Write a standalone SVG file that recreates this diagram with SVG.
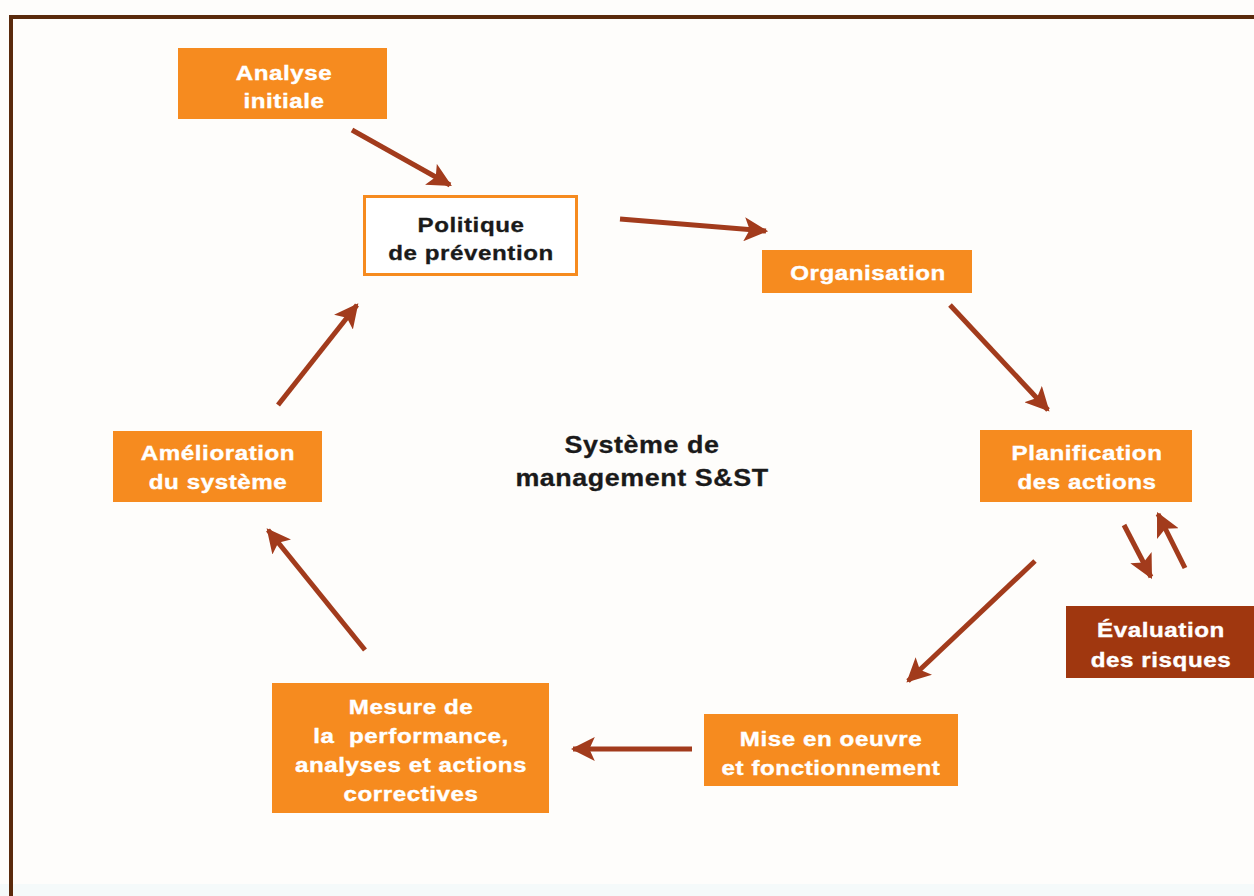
<svg xmlns="http://www.w3.org/2000/svg" width="1254" height="896" viewBox="0 0 1254 896">
<defs>
<style>
.box{fill:#F68B1F;}
.wt{fill:#ffffff;stroke:#ffffff;stroke-width:0.4;font-family:"Liberation Sans",Arial,sans-serif;font-weight:bold;font-size:21px;letter-spacing:0.5px;text-anchor:middle;}
.bt{fill:#1a1a1a;stroke:#1a1a1a;stroke-width:0.3;font-family:"Liberation Sans",Arial,sans-serif;font-weight:bold;font-size:21px;letter-spacing:0.5px;text-anchor:middle;}
.ct{font-size:24px;}
.arr{stroke:#A23B1C;stroke-width:5;fill:none;marker-end:url(#ah);}
</style>
<marker id="ah" markerUnits="userSpaceOnUse" markerWidth="24" markerHeight="24" refX="20" refY="11" orient="auto" viewBox="0 0 22 22">
<path d="M0,0 L22,11 L0,22 L5,11 Z" fill="#A23B1C"/>
</marker>
</defs>
<rect x="0" y="0" width="1254" height="896" fill="#fefdfb"/>
<rect x="0" y="884" width="1254" height="12" fill="#f5fafa"/>
<path d="M11,896 L11,17 L1254,17" fill="none" stroke="#5a2a0c" stroke-width="4"/>

<g id="connectors">
<line class="arr" x1="352" y1="130" x2="450" y2="185"/>
<line class="arr" x1="620" y1="219" x2="766" y2="231"/>
<line class="arr" x1="950" y1="305" x2="1048" y2="410"/>
<line class="arr" x1="1124" y1="525" x2="1151" y2="577"/>
<line class="arr" x1="1185" y1="568" x2="1158" y2="514"/>
<line class="arr" x1="1035" y1="561" x2="908" y2="681"/>
<line class="arr" x1="692" y1="749" x2="573" y2="749"/>
<line class="arr" x1="365" y1="650" x2="268" y2="530"/>
<line class="arr" x1="278" y1="405" x2="357" y2="305"/>
</g>

<g id="analyse">
<rect class="box" x="178" y="48" width="209" height="71"/>
<text class="wt" transform="translate(284,80) scale(1.15,1)">Analyse</text>
<text class="wt" transform="translate(284,108) scale(1.15,1)">initiale</text>
</g>

<g id="politique">
<rect x="364.5" y="196.5" width="212" height="78" fill="#ffffff" stroke="#F68B1F" stroke-width="3"/>
<text class="bt" transform="translate(471,232) scale(1.15,1)">Politique</text>
<text class="bt" transform="translate(471,260) scale(1.15,1)">de prévention</text>
</g>

<g id="organisation">
<rect class="box" x="762" y="250" width="210" height="43"/>
<text class="wt" transform="translate(868,280) scale(1.15,1)">Organisation</text>
</g>

<g id="planification">
<rect class="box" x="980" y="430" width="212" height="72"/>
<text class="wt" transform="translate(1087,460) scale(1.15,1)">Planification</text>
<text class="wt" transform="translate(1087,489) scale(1.15,1)">des actions</text>
</g>

<g id="evaluation">
<rect x="1066" y="606" width="188" height="72" fill="#A0370F"/>
<text class="wt" transform="translate(1161,637) scale(1.15,1)">Évaluation</text>
<text class="wt" transform="translate(1161,667) scale(1.15,1)">des risques</text>
</g>

<g id="mise">
<rect class="box" x="704" y="714" width="254" height="72"/>
<text class="wt" transform="translate(831,746) scale(1.15,1)">Mise en oeuvre</text>
<text class="wt" transform="translate(831,775) scale(1.15,1)">et fonctionnement</text>
</g>

<g id="mesure">
<rect class="box" x="272" y="683" width="277" height="130"/>
<text class="wt" transform="translate(411,714) scale(1.15,1)">Mesure de</text>
<text class="wt" transform="translate(411,743) scale(1.15,1)" xml:space="preserve">la  performance,</text>
<text class="wt" transform="translate(411,772) scale(1.15,1)">analyses et actions</text>
<text class="wt" transform="translate(411,801) scale(1.15,1)">correctives</text>
</g>

<g id="amelioration">
<rect class="box" x="113" y="431" width="209" height="71"/>
<text class="wt" transform="translate(218,460) scale(1.15,1)">Amélioration</text>
<text class="wt" transform="translate(218,489) scale(1.15,1)">du système</text>
</g>

<g id="centre">
<text class="bt ct" transform="translate(642,453) scale(1.12,1)">Système de</text>
<text class="bt ct" transform="translate(642,486) scale(1.12,1)">management S&amp;ST</text>
</g>
</svg>
